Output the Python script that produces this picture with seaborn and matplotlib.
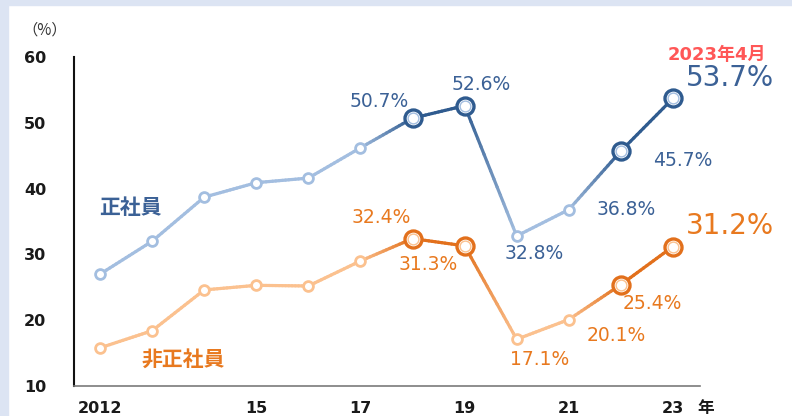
import numpy as np
import pandas as pd
import matplotlib
matplotlib.use('Agg')
import matplotlib.pyplot as plt
import matplotlib.patches as mpatches
from matplotlib.collections import LineCollection
from matplotlib.colors import to_rgb
import seaborn as sns

# data
years = [2012, 2013, 2014, 2015, 2016, 2017, 2018, 2019, 2020, 2021, 2022, 2023]
seishain = [27.0, 32.0, 38.7, 40.9, 41.6, 46.2, 50.7, 52.6, 32.8, 36.8, 45.7, 53.7]
hiseishain = [15.8, 18.4, 24.6, 25.3, 25.2, 29.0, 32.4, 31.3, 17.1, 20.1, 25.4, 31.2]
highlight_years = [2018, 2019, 2022, 2023]
labeled_years = [2018, 2019, 2020, 2021, 2022, 2023]
tick_years = [2012, 2015, 2017, 2019, 2021, 2023]
tick_labels = ['2012', '15', '17', '19', '21', '23']
y_ticks = [10, 20, 30, 40, 50, 60]

sns.set_theme(style='white')
plt.rcParams['font.family'] = ['DejaVu Sans', 'Noto Sans CJK JP']

fig = plt.figure(figsize=(7.92, 4.16), dpi=100)
fig.patch.set_facecolor('white')
# light blue frame strips (top / left)
fig.patches.append(mpatches.Rectangle((0, 1 - 5 / 416), 1, 5 / 416, transform=fig.transFigure,
                                      color='#dce4f3', zorder=0))
fig.patches.append(mpatches.Rectangle((0, 0), 8 / 792, 1, transform=fig.transFigure,
                                      color='#dce4f3', zorder=0))

ax = fig.add_axes([74 / 792, 30 / 416, 626 / 792, 329 / 416])
ax.set_facecolor('none')

series = {
    '正社員': dict(values=seishain, light='#a3bee0', dark='#2f5b8f', text='#3b6196'),
    '非正社員': dict(values=hiseishain, light='#fbc18f', dark='#e2701c', text='#e8791f'),
}

for name, s in series.items():
    df = pd.DataFrame({'year': years, 'value': s['values']})
    df['hl'] = df['year'].isin(highlight_years)
    # gradient line segments between points
    segs, cols = [], []
    for i in range(len(df) - 1):
        x0, x1 = df['year'][i], df['year'][i + 1]
        y0, y1 = df['value'][i], df['value'][i + 1]
        c0 = np.array(to_rgb(s['dark'] if df['hl'][i] else s['light']))
        c1 = np.array(to_rgb(s['dark'] if df['hl'][i + 1] else s['light']))
        n = 16
        t = np.linspace(0, 1, n + 1)
        xs = x0 + (x1 - x0) * t
        ys = y0 + (y1 - y0) * t
        for k in range(n):
            segs.append([(xs[k], ys[k]), (xs[k + 1], ys[k + 1])])
            cols.append(c0 + (c1 - c0) * (k + 0.5) / n)
    ax.add_collection(LineCollection(segs, colors=cols, linewidths=2.3, capstyle='round', zorder=2))

    small = df[~df['hl']]
    big = df[df['hl']]
    sns.scatterplot(data=small, x='year', y='value', s=50, color='white',
                    edgecolor=s['light'], linewidth=2.0, zorder=3, ax=ax, legend=False)
    sns.scatterplot(data=big, x='year', y='value', s=150, color='white',
                    edgecolor=s['dark'], linewidth=2.4, zorder=3, ax=ax, legend=False)
    sns.scatterplot(data=big, x='year', y='value', s=60, color='white',
                    edgecolor=s['light'], linewidth=1.0, zorder=4, ax=ax, legend=False)

# data labels: offsets in pixels
blue_off = {2018: (-33, 17), 2019: (17, 21), 2020: (18, -18), 2021: (57, 0),
            2022: (62, -9), 2023: (57, 20)}
orange_off = {2018: (-31, 21), 2019: (-36, -19), 2020: (23, -20), 2021: (47, -16),
              2022: (31, -19), 2023: (57, 21)}
for name, offs in [('正社員', blue_off), ('非正社員', orange_off)]:
    s = series[name]
    for yr in labeled_years:
        v = s['values'][years.index(yr)]
        size = 20 if yr == 2023 else 13.5
        ax.annotate(f'{v}%', xy=(yr, v), xytext=offs[yr], textcoords='offset pixels',
                    ha='center', va='center', fontsize=size, color=s['text'], zorder=5)

ax.annotate('2023年4月', xy=(2023, seishain[-1]), xytext=(44, 43), textcoords='offset pixels',
            ha='center', va='center', fontsize=13, color='#ff5757', fontweight='bold',
            family=['DejaVu Sans', 'Noto Sans CJK JP'])

# series names
ax.text(2012.58, 37.2, '正社員', fontsize=15, color=series['正社員']['text'],
        family='Noto Sans CJK JP', fontweight='bold', ha='center', va='center')
ax.text(2013.59, 14.0, '非正社員', fontsize=15, color=series['非正社員']['text'],
        family='Noto Sans CJK JP', fontweight='bold', ha='center', va='center')

ax.set_xlim(2011.5, 2023.52)
ax.set_ylim(10, 60)
ax.set_xticks(tick_years)
ax.set_xticklabels(tick_labels)
ax.set_yticks(y_ticks)
ax.set_xlabel('')
ax.set_ylabel('')
for lab in ax.get_xticklabels() + ax.get_yticklabels():
    lab.set_fontweight('bold')
    lab.set_fontsize(11.5)
    lab.set_color('#1a1a1a')
ax.tick_params(axis='y', length=0, pad=20)
ax.tick_params(axis='x', length=0, pad=11)

for side in ['top', 'right']:
    ax.spines[side].set_visible(False)
ax.spines['left'].set_color('#111111')
ax.spines['left'].set_linewidth(1.5)
ax.spines['bottom'].set_color('#7a7a7a')
ax.spines['bottom'].set_linewidth(1.2)

fig.text(706 / 792, 1 - 408 / 416, '年', fontsize=12, fontweight='bold', color='#1a1a1a',
         family='Noto Sans CJK JP', ha='center', va='center')
fig.text(45 / 792, 1 - 30 / 416, '（%）', fontsize=11, color='#333333',
         family='Noto Sans CJK JP', ha='center', va='center')

fig.savefig('out.png', dpi=100)
